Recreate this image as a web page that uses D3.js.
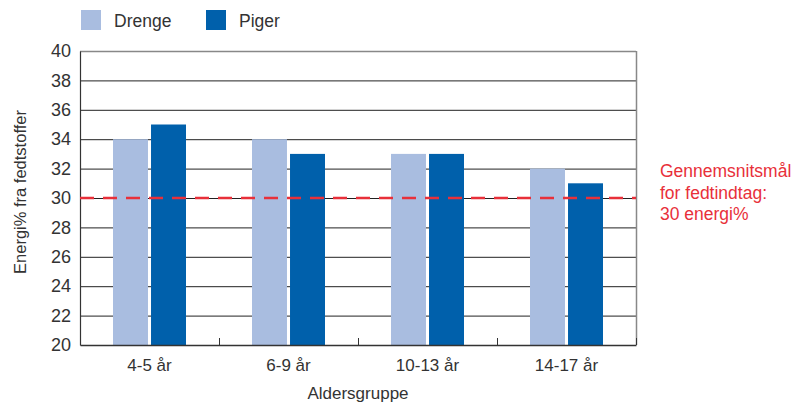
<!DOCTYPE html>
<html><head><meta charset="utf-8">
<script src="https://cdn.jsdelivr.net/npm/d3@7"></script>
<style>body{margin:0;background:#fff}svg{display:block;font-family:"Liberation Sans",Arial,sans-serif}</style>
</head><body><svg id="c" width="804" height="408"></svg>
<script>
const categories = ["4-5 år","6-9 år","10-13 år","14-17 år"];
const seriesNames = ["Drenge","Piger"];
const drenge = [34,34,33,32];
const piger = [35,33,33,31];
const yTicks = [20,22,24,26,28,30,32,34,36,38,40];
const target = 30;
const targetLabel = ["Gennemsnitsmål","for fedtindtag:","30 energi%"];
const colors = ["#a9bde0","#0060ab"];

const svg = d3.select("#c");
const L=80,R=636,T=51,B=345;
const x = d3.scaleBand().domain(categories).range([L,R]);
const x1 = d3.scaleBand().domain(seriesNames).range([33,x.bandwidth()-33]).paddingInner(0.08);
const y = d3.scaleLinear().domain([20,40]).range([B,T]);

// grid
svg.append("g").selectAll("line").data(yTicks.slice(1,-1)).join("line")
  .attr("x1",L).attr("x2",R).attr("y1",d=>y(d)+0.5).attr("y2",d=>y(d)+0.5)
  .attr("stroke","#222").attr("stroke-width",1);
// frame top/right
svg.append("line").attr("x1",L).attr("x2",R).attr("y1",T+0.5).attr("y2",T+0.5).attr("stroke","#888").attr("stroke-width",1.5);
svg.append("line").attr("x1",R+0.5).attr("x2",R+0.5).attr("y1",T).attr("y2",B).attr("stroke","#888").attr("stroke-width",1.5);

// bars
const data = categories.map((c,i)=>({c,vals:[drenge[i],piger[i]]}));
const g = svg.append("g").selectAll("g").data(data).join("g").attr("transform",d=>`translate(${x(d.c)},0)`);
g.selectAll("rect").data(d=>d.vals.map((v,j)=>({s:seriesNames[j],v,j}))).join("rect")
  .attr("x",d=>x1(d.s)).attr("width",x1.bandwidth())
  .attr("y",d=>y(d.v)).attr("height",d=>B-y(d.v)).attr("fill",d=>colors[d.j]);

// y axis
const ya = svg.append("g").attr("transform",`translate(${L},0)`)
  .call(d3.axisLeft(y).tickValues(yTicks).tickSize(0).tickPadding(9));
ya.select(".domain").attr("stroke","#333").attr("stroke-width",1.2);
ya.selectAll("text").attr("font-size",18).attr("fill","#333").attr("font-family","Liberation Sans, Arial, sans-serif");

// x axis
const xa = svg.append("g").attr("transform",`translate(0,${B})`)
  .call(d3.axisBottom(x).tickSize(0).tickPadding(14));
xa.select(".domain").attr("stroke","#333").attr("stroke-width",1.5);
xa.selectAll("text").attr("font-size",17).attr("fill","#333").attr("font-family","Liberation Sans, Arial, sans-serif");
svg.append("g").selectAll("line").data(categories.slice(1).map(c=>x(c)).concat([R])).join("line")
  .attr("x1",d=>d+0.5).attr("x2",d=>d+0.5).attr("y1",B).attr("y2",B-7).attr("stroke","#333").attr("stroke-width",1);

// target line
svg.append("line").attr("x1",L).attr("x2",R).attr("y1",y(target)).attr("y2",y(target))
  .attr("stroke","#e8303a").attr("stroke-width",2.5).attr("stroke-dasharray","14,9");
svg.append("text").attr("x",660).attr("y",177).attr("fill","#e8303a").attr("font-size",17.5)
  .selectAll("tspan").data(targetLabel).join("tspan").attr("x",660).attr("dy",(d,i)=>i?21.5:0).text(d=>d);

// axis titles
svg.append("text").attr("transform","translate(26,192) rotate(-90)").attr("text-anchor","middle")
  .attr("font-size",16.5).attr("fill","#333").text("Energi% fra fedtstoffer");
svg.append("text").attr("x",358).attr("y",399).attr("text-anchor","middle")
  .attr("font-size",17).attr("fill","#333").text("Aldersgruppe");

// legend
const lg = svg.append("g").selectAll("g").data(seriesNames).join("g").attr("transform",(d,i)=>`translate(${81+i*125},10)`);
lg.append("rect").attr("width",20).attr("height",20).attr("fill",(d,i)=>colors[i]);
lg.append("text").attr("x",33).attr("y",16.5).attr("font-size",17.5).attr("fill","#333").text(d=>d);
</script></body></html>
